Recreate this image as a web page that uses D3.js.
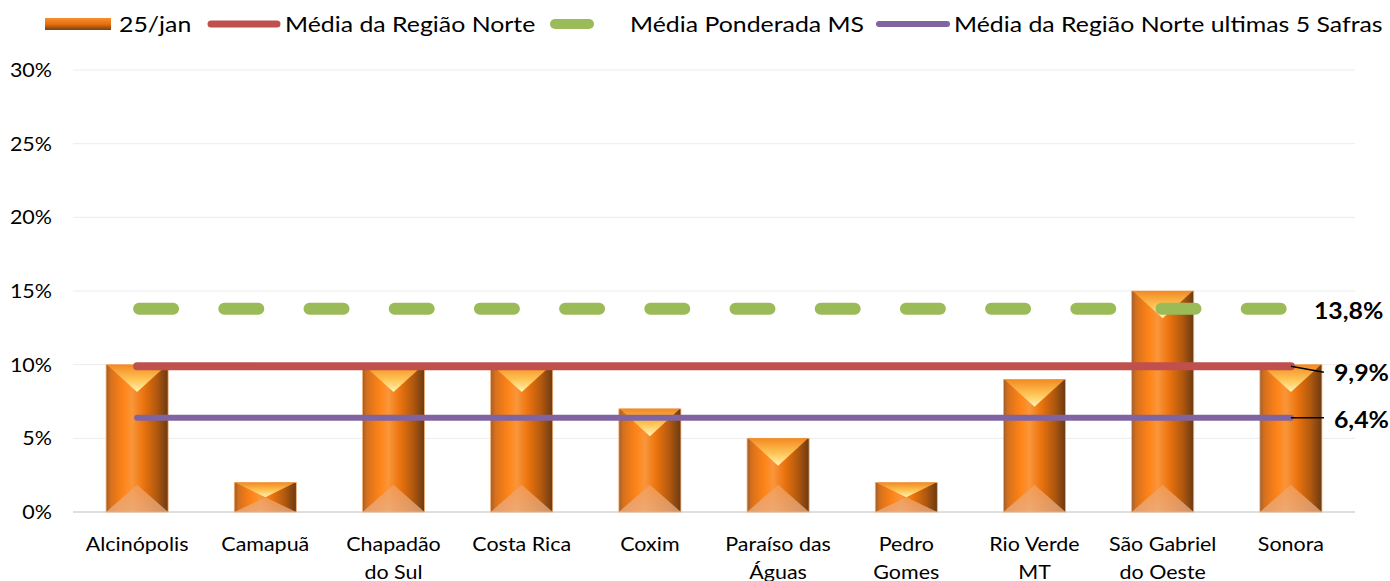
<!DOCTYPE html>
<html><head><meta charset="utf-8">
<script src="https://cdn.jsdelivr.net/npm/d3@7"></script>
<style>html,body{margin:0;padding:0;background:#fff;}svg{display:block;}</style>
</head><body>
<svg id="chart" width="1390" height="581"></svg>
<script>
// ---- data ----
const categories = ["Alcinópolis","Camapuã","Chapadão do Sul","Costa Rica","Coxim","Paraíso das Águas","Pedro Gomes","Rio Verde MT","São Gabriel do Oeste","Sonora"];
const categoryLines = [["Alcinópolis"],["Camapuã"],["Chapadão","do Sul"],["Costa Rica"],["Coxim"],["Paraíso das","Águas"],["Pedro","Gomes"],["Rio Verde","MT"],["São Gabriel","do Oeste"],["Sonora"]];
const values_25jan = [0.10, 0.02, 0.10, 0.10, 0.07, 0.05, 0.02, 0.09, 0.15, 0.10];
const mediaRegiaoNorte = 0.099;
const mediaPonderadaMS = 0.138;
const mediaNorte5Safras = 0.064;
const yTicks = [0, 0.05, 0.10, 0.15, 0.20, 0.25, 0.30];
const legendLabels = ["25/jan","Média da Região Norte","Média Ponderada MS","Média da Região Norte ultimas 5 Safras"];

// ---- layout ----
const svg = d3.select("#chart");
const FONT = "Lato, 'Open Sans', sans-serif";
const SX = 1.13;
const x = d3.scaleBand().domain(categories).range([73, 1355]).paddingInner(0.516).paddingOuter(0.258);
const y = d3.scaleLinear().domain([0, 0.30]).range([512, 70]);
const fmtPct = d => d3.format(".0%")(d);
const fmtLbl = d => d3.format(".1%")(d).replace(".", ",");

function txt(parent, px, py, str, size, anchor, weight) {
  const g = parent.append("g").attr("transform", `translate(${px},${py}) scale(${SX},1)`);
  return g.append("text").attr("x", 0).attr("y", 0).attr("text-anchor", anchor || "start")
    .attr("font-family", FONT).attr("font-size", size).attr("font-weight", weight || "normal")
    .attr("fill", "#000").text(str);
}

// ---- gradients ----
const defs = svg.append("defs");
const bg = defs.append("linearGradient").attr("id", "barGrad").attr("x1", 0).attr("x2", 1).attr("y1", 0).attr("y2", 0);
[[0,"#9c5e30"],[0.07,"#d6701c"],[0.28,"#ff8418"],[0.42,"#f9963a"],[0.6,"#ec740e"],[0.82,"#b0580f"],[1,"#6a3a12"]]
  .forEach(s => bg.append("stop").attr("offset", s[0]).attr("stop-color", s[1]));
const tg = defs.append("linearGradient").attr("id", "topGrad").attr("x1", 0).attr("x2", 0).attr("y1", 0).attr("y2", 1);
[[0,"#f28a22"],[0.55,"#ffc456"],[1,"#fff4b0"]].forEach(s => tg.append("stop").attr("offset", s[0]).attr("stop-color", s[1]));
const btg = defs.append("linearGradient").attr("id", "botGrad").attr("x1", 0).attr("x2", 0).attr("y1", 0).attr("y2", 1);
[[0,"#f2a060"],[1,"#e9b088"]].forEach(s => btg.append("stop").attr("offset", s[0]).attr("stop-color", s[1]));
const lg = defs.append("linearGradient").attr("id", "legGrad").attr("x1", 0).attr("x2", 0).attr("y1", 0).attr("y2", 1);
[[0,"#f59030"],[0.5,"#e8700e"],[1,"#7a4012"]].forEach(s => lg.append("stop").attr("offset", s[0]).attr("stop-color", s[1]));

// ---- grid ----
const grid = svg.append("g");
grid.selectAll("line").data(yTicks).join("line")
  .attr("x1", 73).attr("x2", 1355).attr("y1", d => y(d)).attr("y2", d => y(d))
  .attr("stroke", d => d === 0 ? "#d4d4d4" : "#ececec").attr("stroke-width", d => d === 0 ? 1.5 : 1);
yTicks.forEach(t => txt(svg, 52, y(t) + 7, fmtPct(t), 19, "end"));

// ---- bars ----
const bars = svg.append("g");
categories.forEach((c, i) => {
  const x0 = x(c), w = x.bandwidth(), x1 = x0 + w, cx = x0 + w / 2;
  const top = y(values_25jan[i]), bot = y(0), h = bot - top;
  const depth = Math.min(w * 0.44, h / 2);
  bars.append("rect").attr("x", x0).attr("y", top).attr("width", w).attr("height", h)
    .attr("fill", "url(#barGrad)").attr("stroke", "#f4b278").attr("stroke-width", 0.8);
  bars.append("polygon").attr("points", [[x0, bot], [x1, bot], [cx, bot - depth]].map(p => p.join(",")).join(" "))
    .attr("fill", "url(#botGrad)").attr("opacity", 0.75);
  bars.append("polygon").attr("points", [[x0 + 1, top], [x1 - 1, top], [cx, top + depth]].map(p => p.join(",")).join(" "))
    .attr("fill", "url(#topGrad)");
});

// ---- average lines ----
const xa = x(categories[0]) + x.bandwidth() / 2;
const xb = x(categories[categories.length - 1]) + x.bandwidth() / 2;
svg.append("line").attr("x1", xa + 2).attr("x2", xb).attr("y1", y(mediaPonderadaMS)).attr("y2", y(mediaPonderadaMS))
  .attr("stroke", "#9bbb59").attr("stroke-width", 12).attr("stroke-linecap", "round").attr("stroke-dasharray", "34,51.2");
svg.append("line").attr("x1", xa).attr("x2", xb).attr("y1", y(mediaRegiaoNorte)).attr("y2", y(mediaRegiaoNorte))
  .attr("stroke", "#c0504d").attr("stroke-width", 8).attr("stroke-linecap", "round");
svg.append("line").attr("x1", xa).attr("x2", xb).attr("y1", y(mediaNorte5Safras)).attr("y2", y(mediaNorte5Safras))
  .attr("stroke", "#8064a2").attr("stroke-width", 6).attr("stroke-linecap", "round");

// ---- value labels ----
txt(svg, xb + 23, y(mediaPonderadaMS) + 10, fmtLbl(mediaPonderadaMS), 22, "start", "bold");
svg.append("line").attr("x1", xb).attr("y1", y(mediaRegiaoNorte)).attr("x2", xb + 33).attr("y2", y(mediaRegiaoNorte) + 6)
  .attr("stroke", "#000").attr("stroke-width", 1.5);
txt(svg, xb + 43, y(mediaRegiaoNorte) + 15, fmtLbl(mediaRegiaoNorte), 22, "start", "bold");
svg.append("line").attr("x1", xb).attr("y1", y(mediaNorte5Safras)).attr("x2", xb + 33).attr("y2", y(mediaNorte5Safras))
  .attr("stroke", "#000").attr("stroke-width", 1.5);
txt(svg, xb + 43, y(mediaNorte5Safras) + 10, fmtLbl(mediaNorte5Safras), 22, "start", "bold");

// ---- x labels ----
categories.forEach((c, i) => {
  const cx = x(c) + x.bandwidth() / 2;
  categoryLines[i].forEach((ln, j) => txt(svg, cx, 551 + j * 28, ln, 19, "middle"));
});

// ---- legend ----
const leg = svg.append("g");
leg.append("rect").attr("x", 45).attr("y", 18).attr("width", 66).attr("height", 12).attr("fill", "url(#legGrad)");
txt(leg, 119, 32, legendLabels[0], 22, "start");
leg.append("line").attr("x1", 211).attr("x2", 277).attr("y1", 24).attr("y2", 24).attr("stroke", "#c0504d").attr("stroke-width", 7).attr("stroke-linecap", "round");
txt(leg, 285, 32, legendLabels[1], 22, "start");
leg.append("line").attr("x1", 555).attr("x2", 589).attr("y1", 24).attr("y2", 24).attr("stroke", "#9bbb59").attr("stroke-width", 10).attr("stroke-linecap", "round");
txt(leg, 630, 32, legendLabels[2], 22, "start");
leg.append("line").attr("x1", 879).attr("x2", 947).attr("y1", 24).attr("y2", 24).attr("stroke", "#8064a2").attr("stroke-width", 6).attr("stroke-linecap", "round");
txt(leg, 954, 32, legendLabels[3], 22, "start");
</script>
</body></html>
